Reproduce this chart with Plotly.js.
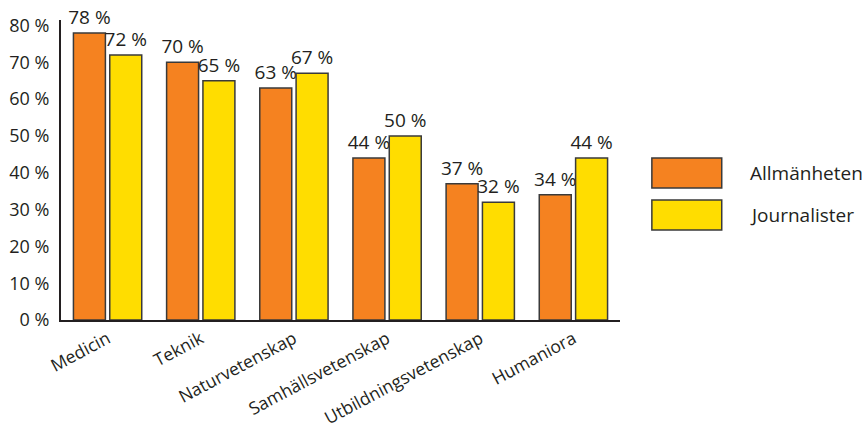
<!DOCTYPE html>
<html>
<head>
<meta charset="utf-8">
<script src="https://cdn.plot.ly/plotly-3.0.1.min.js"></script>
<style>html,body{margin:0;padding:0;background:#fff;}#chart{width:865px;height:430px;}</style>
</head>
<body>
<div id="chart"></div>
<script>
const categories = ["Medicin", "Teknik", "Naturvetenskap", "Samhällsvetenskap", "Utbildningsvetenskap", "Humaniora"];
const allmanheten = [78, 70, 63, 44, 37, 34];
const journalister = [72, 65, 67, 50, 32, 44];
const seriesNames = ["Allmänheten", "Journalister"];
const yTicks = [0, 10, 20, 30, 40, 50, 60, 70, 80];

const FONT = "Open Sans, Noto Sans, sans-serif";
const TXT = "#231f20";
const colors = ["#f58220", "#ffdd00"];

function trace(vals, i) {
  return {
    type: "bar", x: categories, y: vals, name: seriesNames[i],
    marker: {color: colors[i], line: {color: "#3a3a3a", width: 1.5}},
    text: vals.map(v => v + " %"), textposition: "outside",
    textfont: {family: FONT, size: 19, color: TXT},
    constraintext: "none", cliponaxis: false, showlegend: false,
    hoverinfo: "skip"
  };
}

const data = [trace(allmanheten, 0), trace(journalister, 1)];

const layout = {
  width: 865, height: 430,
  margin: {l: 61, r: 245, t: 20, b: 110},
  paper_bgcolor: "#fff", plot_bgcolor: "#fff",
  barmode: "group", bargap: 0.22, bargroupgap: 0.12,
  font: {family: FONT, size: 19, color: TXT},
  xaxis: {
    showline: true, linecolor: TXT, linewidth: 2, showgrid: false,
    tickangle: -28, ticks: "", ticklabelstandoff: 0, tickfont: {family: FONT, size: 17.5, color: TXT},
    fixedrange: true
  },
  yaxis: {
    range: [0, 81.5], tickvals: yTicks, ticktext: yTicks.map(v => v + " %"),
    showline: true, linecolor: TXT, linewidth: 2, showgrid: false, zeroline: false,
    ticks: "", ticklabelstandoff: 6, tickfont: {family: FONT, size: 18, color: TXT},
    fixedrange: true
  },
  shapes: [
    {type: "rect", xref: "paper", yref: "paper", x0: 1.057, x1: 1.182, y0: 0.44, y1: 0.54,
     fillcolor: colors[0], line: {color: "#3a3a3a", width: 1.5}},
    {type: "rect", xref: "paper", yref: "paper", x0: 1.057, x1: 1.182, y0: 0.30, y1: 0.40,
     fillcolor: colors[1], line: {color: "#3a3a3a", width: 1.5}}
  ],
  annotations: [
    {xref: "paper", yref: "paper", x: 1.229, y: 0.49, text: seriesNames[0], showarrow: false,
     xanchor: "left", yanchor: "middle", font: {family: FONT, size: 19, color: TXT}},
    {xref: "paper", yref: "paper", x: 1.229, y: 0.35, text: seriesNames[1], showarrow: false,
     xanchor: "left", yanchor: "middle", font: {family: FONT, size: 19, color: TXT}}
  ]
};

Plotly.newPlot("chart", data, layout, {displayModeBar: false, staticPlot: true});
</script>
</body>
</html>
